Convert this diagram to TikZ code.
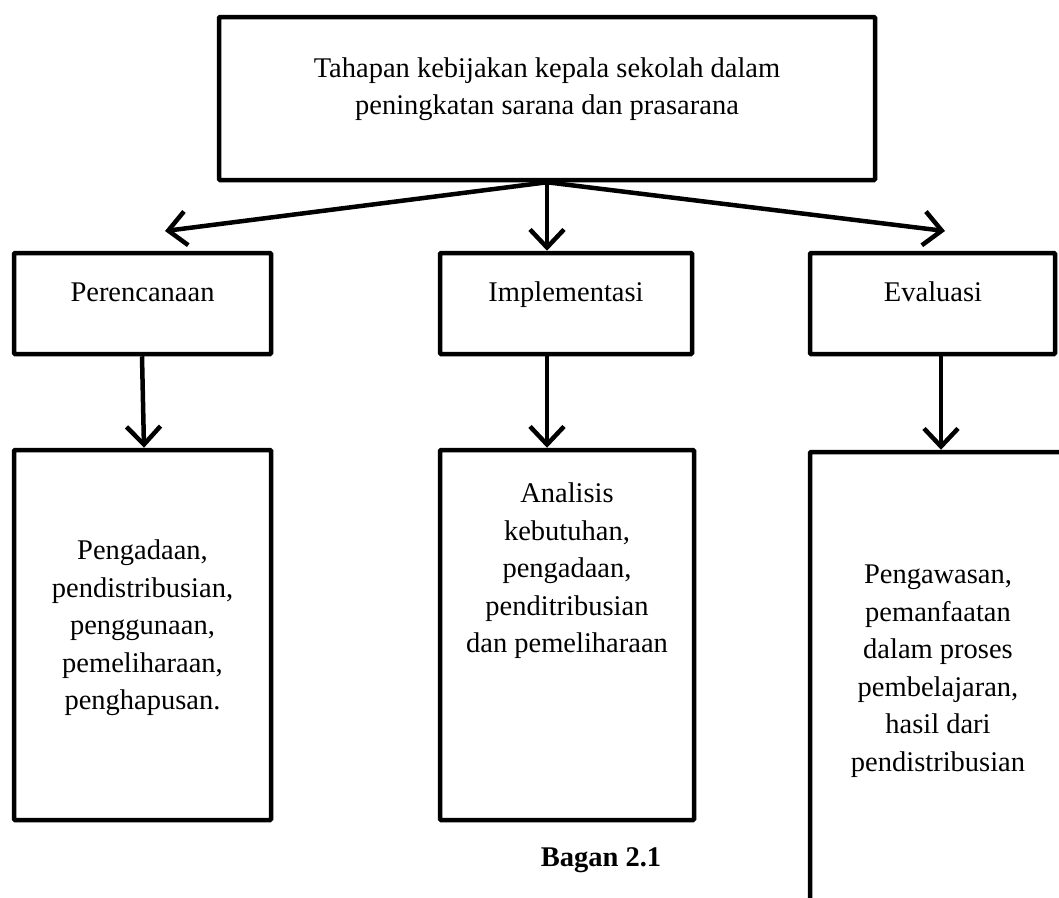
\documentclass[tikz,border=0pt]{standalone}
\usepackage{fontspec}
\setmainfont{Liberation Serif}
\usetikzlibrary{arrows.meta}
\begin{document}
\begin{tikzpicture}[x=1pt,y=-1pt,
  box/.style={draw, line width=4.5pt, rectangle, inner sep=0pt, rounded corners=1pt},
  lbl/.style={align=center, inner sep=0pt, font=\fontsize{28.5}{37.5}\selectfont},
  arr/.style={line width=4.5pt, -{Straight Barb[length=18pt,width=34pt,line width=4.5pt]}}]
\useasboundingbox (0,0) rectangle (1059,897);
\begin{scope}
\clip (0,0) rectangle (1059,897);
% boxes
\node[box, minimum width=656pt, minimum height=163pt] (top) at (547,98.5) {};
\node[box, minimum width=257pt, minimum height=101pt] (p) at (142.5,303.5) {};
\node[box, minimum width=252pt, minimum height=101pt] (i) at (566,303.5) {};
\node[box, minimum width=245pt, minimum height=101pt] (e) at (932.5,303.5) {};
\node[box, minimum width=257pt, minimum height=370pt] (pl) at (142.5,635) {};
\node[box, minimum width=254pt, minimum height=370pt] (il) at (567,635) {};
\node[box, minimum width=400pt, minimum height=600pt] (el) at (1010,752) {};
\end{scope}
% texts
\node[lbl] (toptext) at (547,89) {Tahapan kebijakan kepala sekolah dalam\\peningkatan sarana dan prasarana};
\node[lbl, anchor=base] (ptext) at (142.5,301) {Perencanaan};
\node[lbl, anchor=base] (itext) at (566,301) {Implementasi};
\node[lbl, anchor=base] (etext) at (933,301) {Evaluasi};
\node[lbl] (pltext) at (142.5,628) {Pengadaan,\\pendistribusian,\\penggunaan,\\pemeliharaan,\\penghapusan.};
\node[lbl] (iltext) at (567,571) {Analisis\\kebutuhan,\\pengadaan,\\penditribusian\\dan pemeliharaan};
\node[lbl] (eltext) at (938,671) {Pengawasan,\\pemanfaatan\\dalam proses\\pembelajaran,\\hasil dari\\pendistribusian};
\node[lbl, font=\fontsize{28.5}{37.5}\selectfont\bfseries] (caption) at (601,860) {Bagan 2.1};
% connectors
\coordinate (lt) at (165,231);
\coordinate (rt) at (945,231);
\draw[arr] (top.south) -- (lt);
\draw[arr] (top.south) -- (rt);
\draw[arr] (top.south) -- (top.south |- i.north);
\draw[arr] ([xshift=-0.5pt]p.south) -- ([xshift=1.5pt]pl.north);
\draw[arr] (top.south |- i.south) -- (top.south |- il.north);
\draw[arr] ([xshift=8.5pt]e.south) -- ([xshift=8.5pt]e.south |- el.north);
\end{tikzpicture}
\end{document}
